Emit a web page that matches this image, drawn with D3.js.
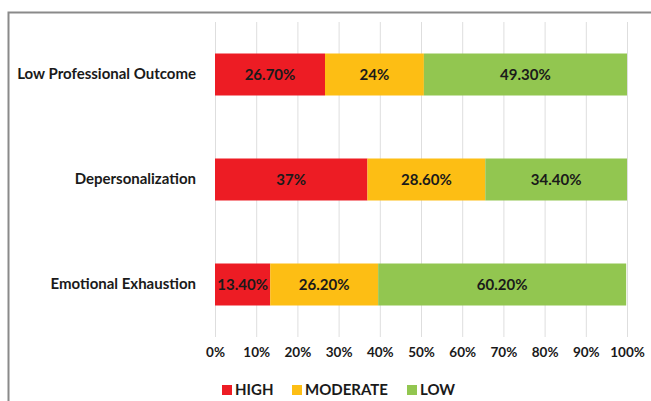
<!DOCTYPE html>
<html>
<head>
<meta charset="utf-8">
<script src="https://cdn.jsdelivr.net/npm/d3@7"></script>
<style>
  html, body { margin: 0; padding: 0; background: #fff; }
  svg { display: block; font-family: Lato, "Open Sans", sans-serif; }
</style>
</head>
<body>
<svg id="chart" width="651" height="401"></svg>
<script>
// Burnout dimensions, share of respondents per level (percent)
const categories = ["Low Professional Outcome", "Depersonalization", "Emotional Exhaustion"];
const levels = ["HIGH", "MODERATE", "LOW"];
const high = [26.7, 37, 13.4];
const moderate = [24, 28.6, 26.2];
const low = [49.3, 34.4, 60.2];
const valueLabels = [
  ["26.70%", "24%", "49.30%"],
  ["37%", "28.60%", "34.40%"],
  ["13.40%", "26.20%", "60.20%"]
];
const tickValues = [0, 10, 20, 30, 40, 50, 60, 70, 80, 90, 100];
const colors = ["#ED1C24", "#FDBE14", "#92C650"];

const svg = d3.select("#chart");
const W = 651, H = 401;

// outer frame
svg.append("rect")
  .attr("x", 8.5).attr("y", 12.5)
  .attr("width", W + 10).attr("height", H + 10)
  .attr("fill", "none").attr("stroke", "#8a8a8a").attr("stroke-width", 2);

const x = d3.scaleLinear().domain([0, 100]).range([215, 627]);
const y = d3.scaleBand().domain(categories).range([22, 337]).paddingInner(0.6).paddingOuter(0.3);

// vertical gridlines
svg.append("g").selectAll("line").data(tickValues).join("line")
  .attr("x1", d => x(d) + 0.5).attr("x2", d => x(d) + 0.5)
  .attr("y1", 22).attr("y2", 337)
  .attr("stroke", "#dedede").attr("stroke-width", 1);

// x axis tick labels
const xAxis = d3.axisBottom(x).tickValues(tickValues).tickFormat(d => d + "%").tickSize(0).tickPadding(0);
const gx = svg.append("g").attr("transform", "translate(0,347)").call(xAxis);
gx.select(".domain").remove();
gx.selectAll("text").attr("font-size", 13.5).attr("font-weight", "bold").attr("fill", "#1a1a1a")
  .attr("font-family", "Lato, 'Open Sans', sans-serif");

// category labels
const yAxis = d3.axisLeft(y).tickSize(0).tickPadding(0);
const gy = svg.append("g").attr("transform", "translate(196,0)").call(yAxis);
gy.select(".domain").remove();
gy.selectAll("text").attr("font-size", 15).attr("font-weight", "bold").attr("fill", "#1a1a1a")
  .attr("font-family", "Lato, 'Open Sans', sans-serif");

// stacked bars
const rows = categories.map((c, i) => ({ cat: c, HIGH: high[i], MODERATE: moderate[i], LOW: low[i], idx: i }));
const stacked = d3.stack().keys(levels)(rows);

const layers = svg.append("g").selectAll("g").data(stacked).join("g")
  .attr("fill", (d, i) => colors[i]);

layers.selectAll("rect").data(d => d).join("rect")
  .attr("x", d => x(d[0]))
  .attr("y", d => y(d.data.cat))
  .attr("width", d => x(d[1]) - x(d[0]))
  .attr("height", y.bandwidth());

// value labels
stacked.forEach((layer, li) => {
  svg.append("g").selectAll("text").data(layer).join("text")
    .attr("x", d => (x(d[0]) + x(d[1])) / 2)
    .attr("y", d => y(d.data.cat) + y.bandwidth() / 2)
    .attr("dy", "0.36em")
    .attr("text-anchor", "middle")
    .attr("font-size", 15).attr("font-weight", "bold").attr("fill", "#1a1a1a")
    .text(d => valueLabels[d.data.idx][li]);
});

// legend
const legendX = [222, 292, 407];
const lg = svg.append("g").selectAll("g").data(levels).join("g")
  .attr("transform", (d, i) => `translate(${legendX[i]},390)`);
lg.append("rect").attr("x", 0).attr("y", -5).attr("width", 10).attr("height", 10)
  .attr("fill", (d, i) => colors[i]);
lg.append("text").attr("x", 13).attr("y", 0).attr("dy", "0.36em")
  .attr("font-size", 15).attr("font-weight", "bold").attr("fill", "#1a1a1a")
  .text(d => d);
</script>
</body>
</html>
